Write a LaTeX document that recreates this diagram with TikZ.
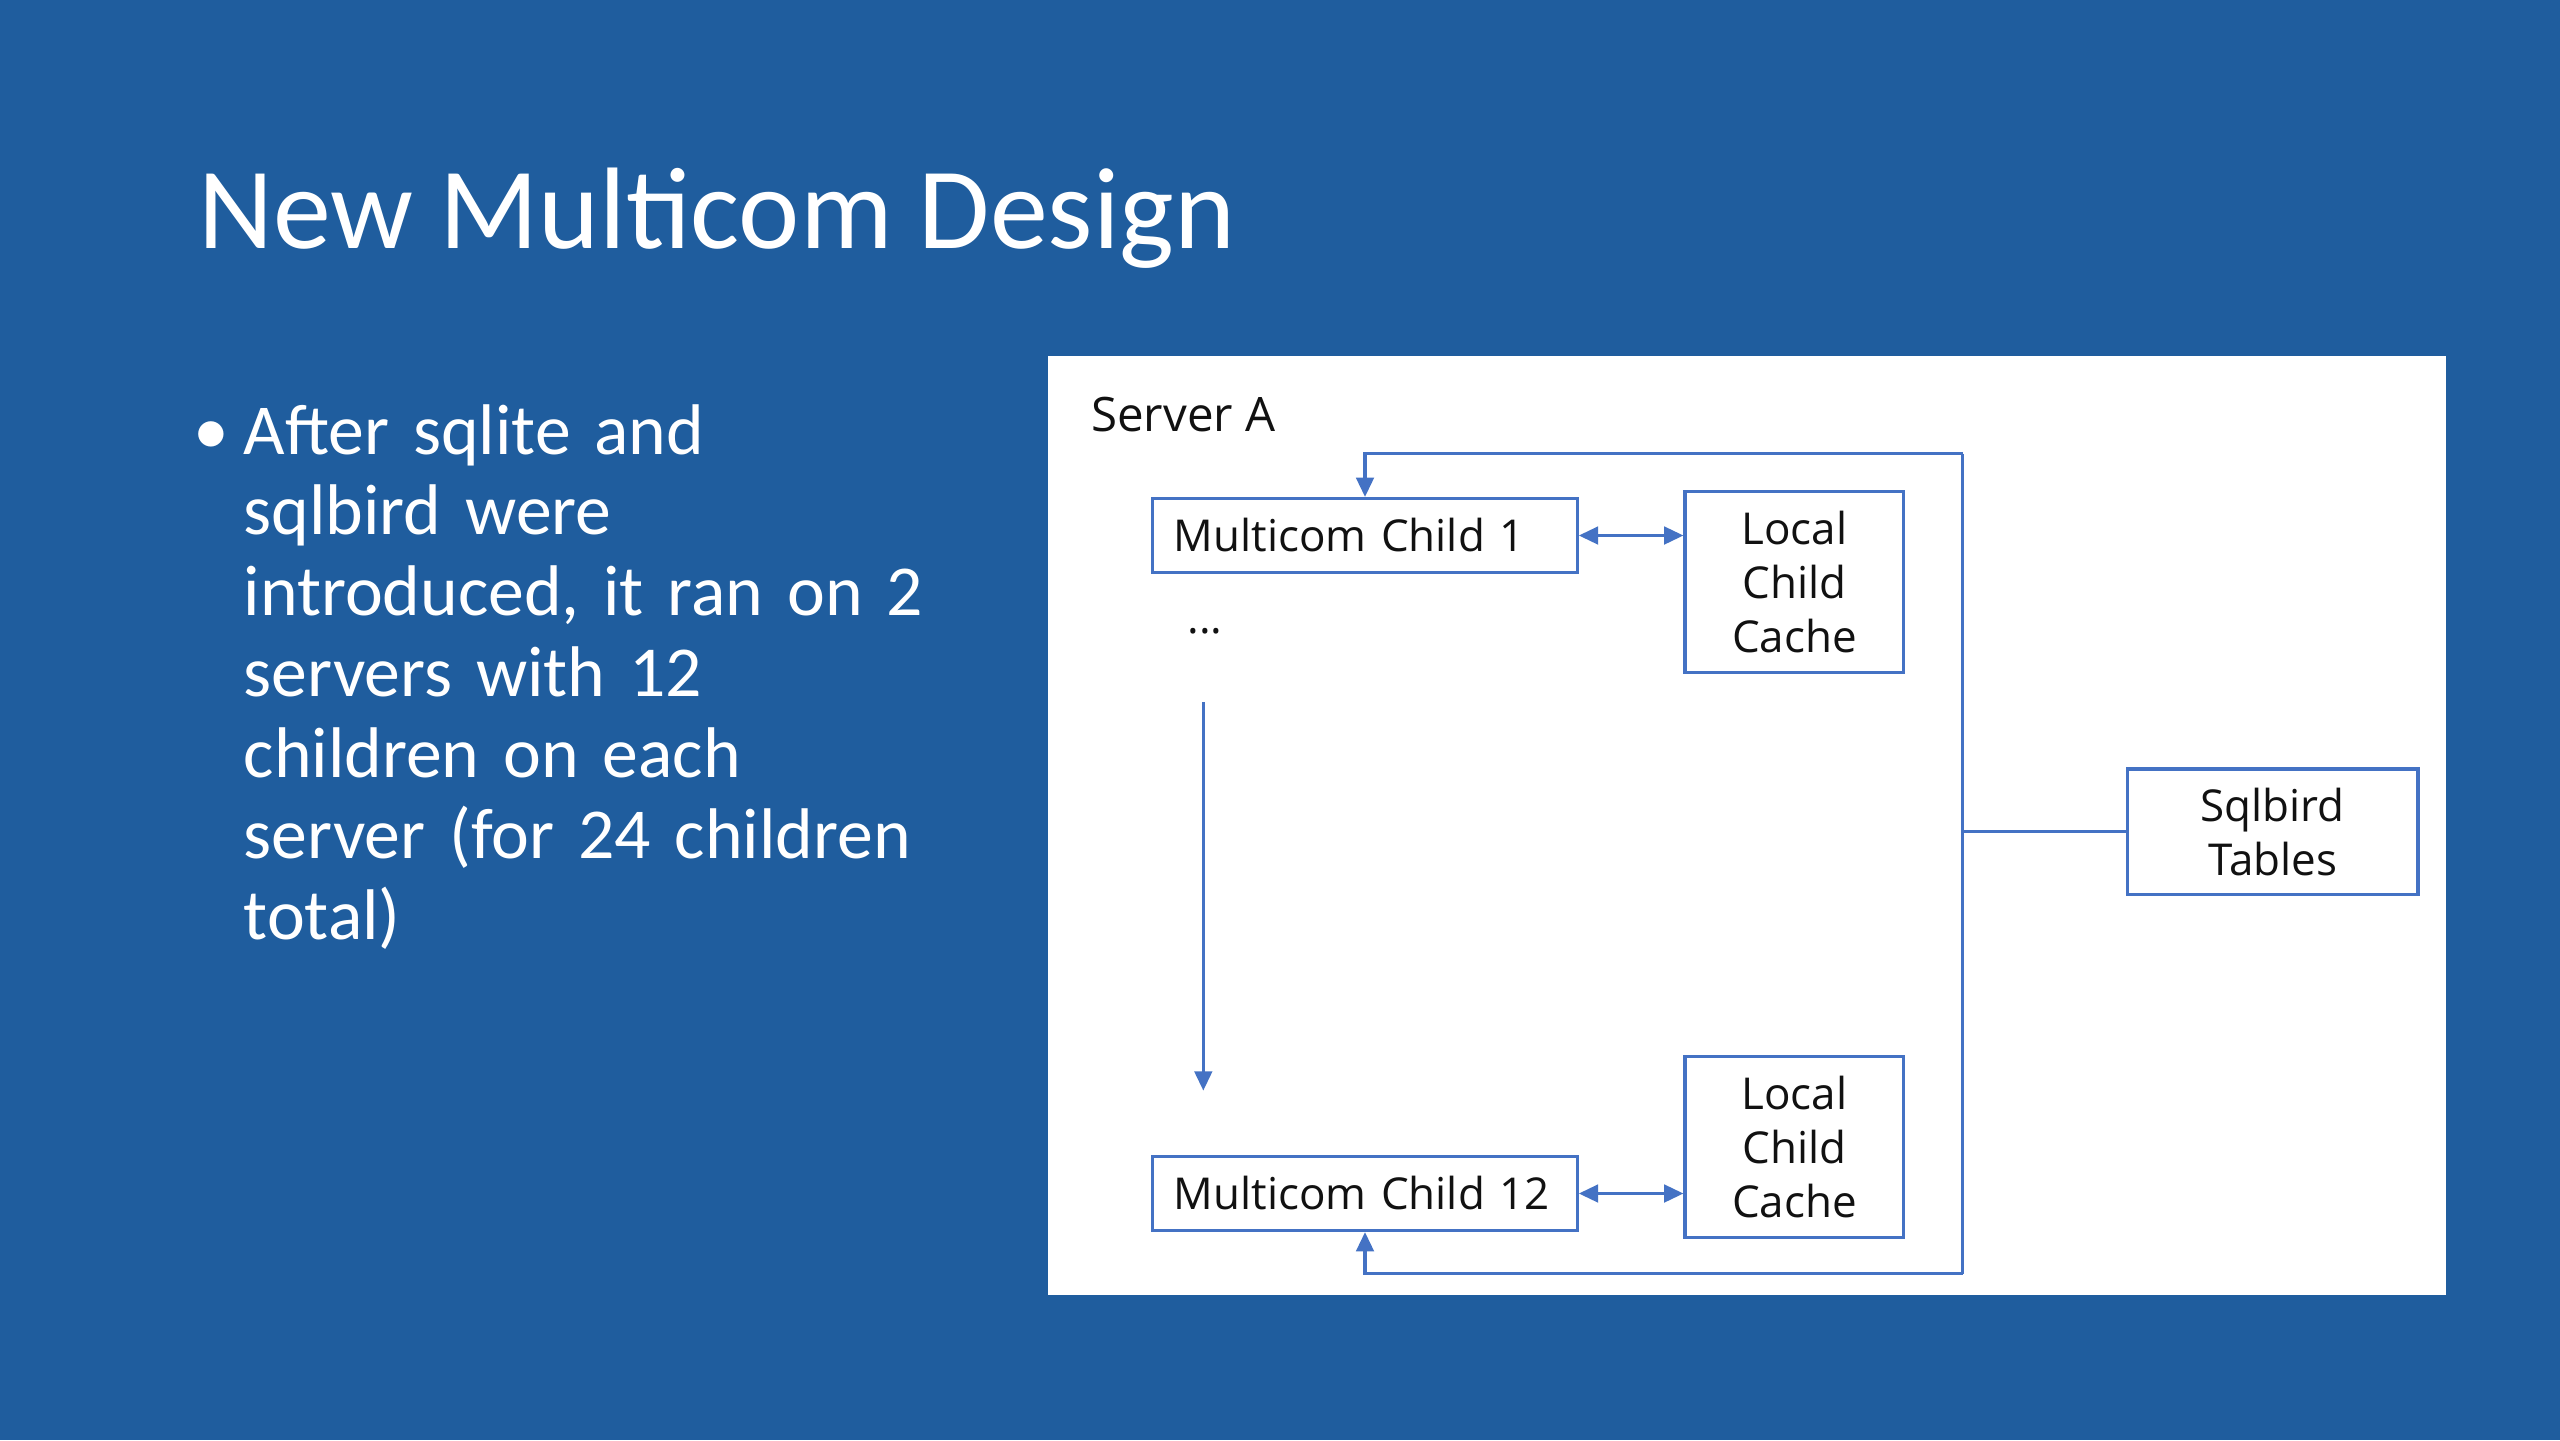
\documentclass[tikz,border=0pt]{standalone}
\usepackage{fontspec}
\setmainfont{Carlito}
\newfontfamily\diagfont{Open Sans}
\usetikzlibrary{arrows.meta}
\definecolor{slideBlue}{HTML}{1F5D9E}
\definecolor{lineBlue}{HTML}{4472C4}
\definecolor{boxInk}{HTML}{111111}

\begin{document}
\begin{tikzpicture}[
  blk/.style={draw=lineBlue,fill=white,line width=.9pt,inner sep=0pt,align=center,font=\diagfont\fontsize{12.5}{15.4}\selectfont,text=boxInk},
  child/.style={blk,align=left,inner xsep=.21cm,text width=3.825cm,minimum height=.74cm},
  cache/.style={blk,minimum width=2.188cm,minimum height=1.812cm},
  link/.style={draw=lineBlue,line width=.9pt},
  arr/.style={link,-{Triangle[length=5.5pt,width=5pt]}},
  darr/.style={link,{Triangle[length=5.5pt,width=5pt]}-{Triangle[length=5.5pt,width=5pt]}}
]
  \fill[slideBlue] (0,0) rectangle (25.6,-14.4);
  \useasboundingbox (0,0) rectangle (25.6,-14.4);
  % slide text
  \node[anchor=base west,inner sep=0pt,text=white,font=\fontsize{33}{40}\selectfont] (title) at (1.976,-2.48) {New Multicom Design};
  \node[anchor=base west,inner sep=0pt,text=white,font=\fontsize{20.4}{23}\selectfont] (bullet) at (1.93,-4.54) {•};
  \node[anchor=base west,inner sep=0pt,text=white,text width=7.2cm,align=left,font=\fontsize{20.4}{23}\selectfont] (body) at (2.43,-4.54)
    {After sqlite and\\sqlbird were\\introduced, it ran on 2\\servers with 12\\children on each\\server (for 24 children\\total)};
  % diagram
  \node[fill=white,inner sep=0pt,minimum width=13.976cm,minimum height=9.388cm] (panel) at (17.47,-8.253) {};
  \node[anchor=west,inner sep=0pt,text=boxInk,font=\diagfont\fontsize{13.5}{16}\selectfont] (server) at (10.906,-4.147) {Server A};
  \node[child] (child1) at (13.65,-5.355) {Multicom Child 1};
  \node[child] (child12) at (13.65,-11.935) {Multicom Child 12};
  \node[cache] (cache1) at (17.944,-5.82) {Local\\Child\\Cache};
  \node[cache] (cache12) at (17.944,-11.47) {Local\\Child\\Cache};
  \node[blk,minimum width=2.906cm,minimum height=1.257cm] (sqlbird) at (22.727,-8.319) {Sqlbird\\Tables};
  \node[inner sep=0pt,text=boxInk,font=\diagfont\fontsize{12.5}{15}\selectfont] (dots) at (12.049,-6.31) {...};
  \coordinate (busTop) at (19.625,-4.539);
  \coordinate (busBot) at (19.625,-12.735);
  \coordinate (flowStart) at (12.033,-7.02);
  \coordinate (flowEnd) at (12.033,-10.906);
  \draw[link] (busTop) -- (busBot);
  \draw[arr] (busTop) -| (child1.north);
  \draw[arr] (busBot) -| (child12.south);
  \draw[link] (sqlbird.west) -- (sqlbird.west -| busTop);
  \draw[darr] (child1.east) -- (child1.east -| cache1.west);
  \draw[darr] (child12.east) -- (child12.east -| cache12.west);
  \draw[arr] (flowStart) -- (flowEnd);
\end{tikzpicture}
\end{document}
